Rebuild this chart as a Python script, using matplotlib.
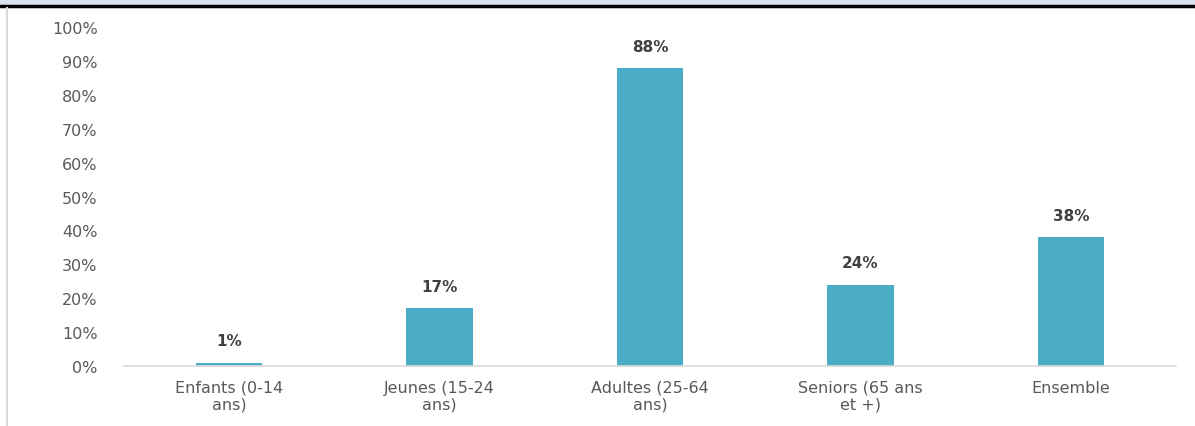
import matplotlib.pyplot as plt
from matplotlib.patches import Rectangle
from matplotlib.lines import Line2D

categories = ["Enfants (0-14\nans)", "Jeunes (15-24\nans)", "Adultes (25-64\nans)",
              "Seniors (65 ans\net +)", "Ensemble"]
values = [1, 17, 88, 24, 38]
yticks = [0, 10, 20, 30, 40, 50, 60, 70, 80, 90, 100]

plt.rcParams['font.family'] = ['DejaVu Sans']

fig = plt.figure(figsize=(11.95, 4.27), dpi=100)
ax = fig.add_axes([0.1038, 0.1405, 0.8803, 0.7935])

x = range(len(categories))
bars = ax.bar(x, values, width=0.315, color='#4BACC6', zorder=2)

for b, v in zip(bars, values):
    ax.text(b.get_x() + b.get_width() / 2, v + 4.2, f"{v}%", ha='center', va='bottom',
            fontsize=11, fontweight='bold', color='#404040')

ax.set_xlim(-0.5, len(categories) - 0.5)
ax.set_ylim(0, 100)
ax.set_yticks(yticks)
ax.set_yticklabels([f"{t}%" for t in yticks], fontsize=11.5, color='#595959')
ax.set_xticks(list(x))
ax.set_xticklabels(categories, fontsize=11.5, color='#595959', linespacing=1.1)
ax.tick_params(axis='y', length=0, pad=19)
ax.tick_params(axis='x', length=0, pad=10)

for s in ['top', 'right', 'left']:
    ax.spines[s].set_visible(False)
ax.spines['bottom'].set_color('#d9d9d9')
ax.spines['bottom'].set_linewidth(1.2)

# frame decorations of the original screenshot
fig.patches.append(Rectangle((0, 1 - 5 / 427), 1, 5 / 427, transform=fig.transFigure,
                             color='#dae3f3', zorder=0))
fig.lines.append(Line2D([0, 1], [1 - 7 / 427, 1 - 7 / 427], transform=fig.transFigure,
                        color='black', linewidth=2.5))
fig.lines.append(Line2D([7 / 1195, 7 / 1195], [0, 1 - 9 / 427], transform=fig.transFigure,
                        color='#d9d9d9', linewidth=1.5))

fig.savefig('out.png', dpi=100)
